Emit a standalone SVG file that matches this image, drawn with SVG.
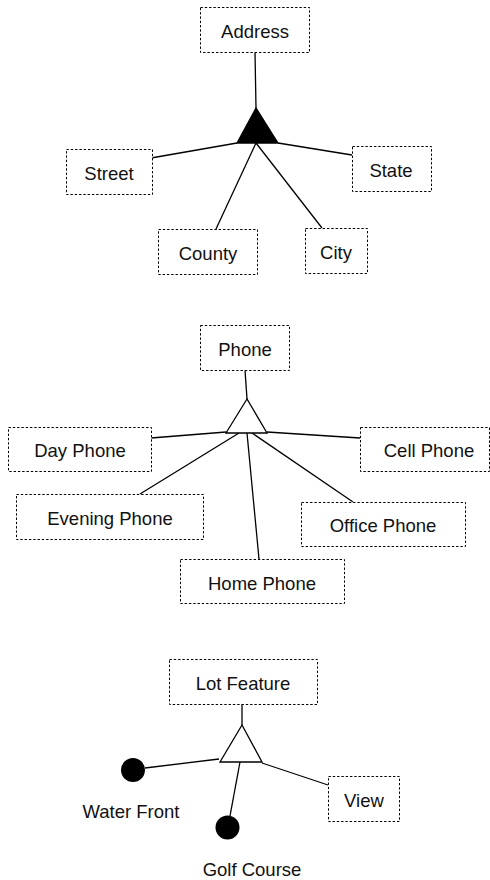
<svg xmlns="http://www.w3.org/2000/svg" width="490" height="880" viewBox="0 0 490 880">
<style>
.box rect{fill:#fff;stroke:#000;stroke-width:1;stroke-dasharray:2.4 1.9}
text{font-family:"Liberation Sans",Arial,sans-serif;font-size:18.5px;fill:#111;text-anchor:middle}
.conn line{stroke:#000;stroke-width:1.3}
.tri{stroke:#000;stroke-width:1.3;stroke-linejoin:miter}
</style>
<rect width="490" height="880" fill="#fff"/>
<g id="connectors" class="conn">
<line x1="255" y1="52" x2="256" y2="108"/>
<line x1="151" y1="158" x2="237" y2="143"/>
<line x1="278" y1="143" x2="352" y2="155"/>
<line x1="216" y1="229" x2="256" y2="143"/>
<line x1="322" y1="228" x2="256" y2="143"/>
<line x1="245" y1="370" x2="247" y2="399"/>
<line x1="151" y1="438" x2="226" y2="432"/>
<line x1="267" y1="432" x2="360" y2="438"/>
<line x1="140" y1="494" x2="239" y2="433"/>
<line x1="353" y1="502" x2="252" y2="433"/>
<line x1="259" y1="559" x2="247" y2="433"/>
<line x1="242" y1="704" x2="242" y2="725"/>
<line x1="145" y1="768" x2="219" y2="759"/>
<line x1="230" y1="816" x2="240" y2="762"/>
<line x1="262" y1="763" x2="328" y2="785"/>
</g>
<g id="address-tri"><polygon class="tri" points="256,108 237,143 278,143" fill="#000"/></g>
<g id="phone-tri"><polygon class="tri" points="247,399 226,433 267,433" fill="#fff"/></g>
<g id="lot-tri"><polygon class="tri" points="242,725 220,762 262,762" fill="#fff"/></g>
<g id="address" class="box"><rect x="200.5" y="7.5" width="109" height="45"/><text x="255" y="38">Address</text></g>
<g id="street" class="box"><rect x="66.5" y="149.5" width="86" height="45"/><text x="109" y="180">Street</text></g>
<g id="state" class="box"><rect x="352.5" y="146.5" width="79" height="45"/><text x="391" y="177">State</text></g>
<g id="county" class="box"><rect x="158.5" y="229.5" width="99" height="45"/><text x="208" y="260">County</text></g>
<g id="city" class="box"><rect x="305.5" y="228.5" width="62" height="45"/><text x="336" y="259">City</text></g>
<g id="phone" class="box"><rect x="200.5" y="325.5" width="89" height="45"/><text x="245" y="356">Phone</text></g>
<g id="day-phone" class="box"><rect x="8.5" y="427.5" width="143" height="44"/><text x="80" y="457">Day Phone</text></g>
<g id="cell-phone" class="box"><rect x="360.5" y="427.5" width="129" height="44"/><text x="429" y="457">Cell Phone</text></g>
<g id="evening-phone" class="box"><rect x="16.5" y="494.5" width="187" height="45"/><text x="110" y="525">Evening Phone</text></g>
<g id="office-phone" class="box"><rect x="301.5" y="502.5" width="164" height="44"/><text x="383" y="532">Office Phone</text></g>
<g id="home-phone" class="box"><rect x="180.5" y="559.5" width="164" height="44"/><text x="262" y="590">Home Phone</text></g>
<g id="lot-feature" class="box"><rect x="169.5" y="659.5" width="148" height="45"/><text x="243" y="690">Lot Feature</text></g>
<g id="view" class="box"><rect x="328.5" y="776.5" width="71" height="45"/><text x="364" y="807">View</text></g>
<g id="water-front"><circle cx="133" cy="770" r="12" fill="#000"/><text x="131" y="817.5">Water Front</text></g>
<g id="golf-course"><circle cx="227.5" cy="827.5" r="12" fill="#000"/><text x="252" y="876">Golf Course</text></g>
</svg>
